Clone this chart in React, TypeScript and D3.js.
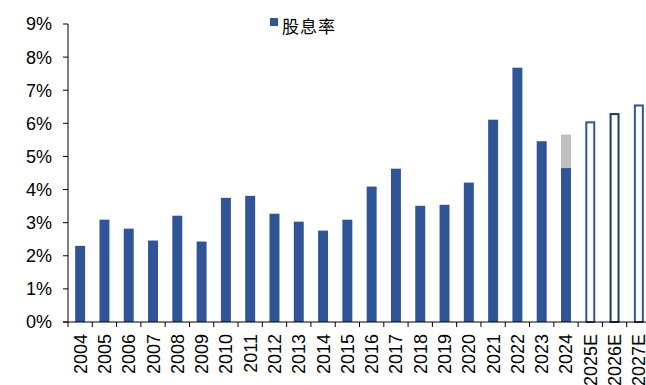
import React from 'react'
import * as d3 from 'd3'

// 年份与股息率（%）
const years = ['2004', '2005', '2006', '2007', '2008', '2009', '2010', '2011', '2012', '2013', '2014', '2015',
  '2016', '2017', '2018', '2019', '2020', '2021', '2022', '2023', '2024', '2025E', '2026E', '2027E']
const yieldValues = [2.30, 3.09, 2.82, 2.46, 3.21, 2.43, 3.75, 3.81, 3.27, 3.03, 2.76, 3.09,
  4.09, 4.63, 3.51, 3.54, 4.21, 6.11, 7.68, 5.46, 4.65, 6.03, 6.28, 6.54]
// 2024 灰色部分（额外部分）
const extraValues = [0, 0, 0, 0, 0, 0, 0, 0, 0, 0, 0, 0,
  0, 0, 0, 0, 0, 0, 0, 0, 1.01, 0, 0, 0]
const forecastYears = ['2025E', '2026E', '2027E']
const yTicks = [0, 1, 2, 3, 4, 5, 6, 7, 8, 9]
const legendLabel = '股息率'

const W = 646
const H = 385
const margin = { left: 68, top: 24, right: -5, bottom: 63 }

const BLUE = '#2F5597'
const NAVY = '#1F3864'
const GRAY = '#BFBFBF'

export default function App() {
  const x = d3.scaleBand<string>()
    .domain(years)
    .range([margin.left, W - margin.right])
    .paddingInner(0.59)
    .paddingOuter(0.295)
  const y = d3.scaleLinear().domain([0, 9]).range([H - margin.bottom, margin.top])
  const step = x.step()
  const x0 = margin.left
  const y0 = y(0)
  const font = '"Liberation Sans", Arial, sans-serif'

  return (
    <svg width={W} height={H} style={{ position: 'absolute', left: 0, top: 0, background: '#fff' }}>
      {/* 柱 */}
      {years.map((yr, i) => {
        const bx = x(yr)!
        const bw = x.bandwidth()
        const v = yieldValues[i]
        if (forecastYears.includes(yr)) {
          const stroke = yr === '2026E' ? NAVY : BLUE
          return (
            <rect key={yr} x={bx + 1} y={y(v)} width={bw - 2} height={y0 - y(v)}
              fill="#fff" stroke={stroke} strokeWidth={2} />
          )
        }
        return (
          <g key={yr}>
            <rect x={bx} y={y(v)} width={bw} height={y0 - y(v)} fill={BLUE} />
            {extraValues[i] > 0 && (
              <rect x={bx} y={y(v + extraValues[i])} width={bw}
                height={y(v) - y(v + extraValues[i])} fill={GRAY} />
            )}
          </g>
        )
      })}

      {/* Y 轴 */}
      <line x1={x0} x2={x0} y1={y(9)} y2={y0} stroke="#000" strokeWidth={1} />
      {yTicks.map(t => (
        <g key={t}>
          <line x1={x0 - 5} x2={x0} y1={y(t)} y2={y(t)} stroke="#000" />
          <text x={52} y={y(t)} dy="0.36em" textAnchor="end" fontFamily={font} fontSize={18} fill="#000">
            {t}%
          </text>
        </g>
      ))}

      {/* X 轴 */}
      <line x1={x0 - 5} x2={W} y1={y0} y2={y0} stroke="#000" />
      {d3.range(years.length + 1).map(i => (
        <line key={i} x1={x0 + i * step} x2={x0 + i * step} y1={y0} y2={y0 + 5} stroke="#000" />
      ))}
      {years.map(yr => {
        const cx = x(yr)! + x.bandwidth() / 2
        return (
          <text key={yr} transform={`translate(${cx},${y0 + 12}) rotate(-90)`}
            textAnchor="end" dy="0.36em" fontFamily={font} fontSize={18} fill="#000">
            {yr}
          </text>
        )
      })}

      {/* 图例 */}
      <rect x={270} y={18} width={8} height={8} fill={BLUE} />
      <text x={282} y={25} dominantBaseline="central" fontFamily='"Noto Sans CJK SC", sans-serif'
        fontSize={17} letterSpacing={1} fill="#000">
        {legendLabel}
      </text>
    </svg>
  )
}
